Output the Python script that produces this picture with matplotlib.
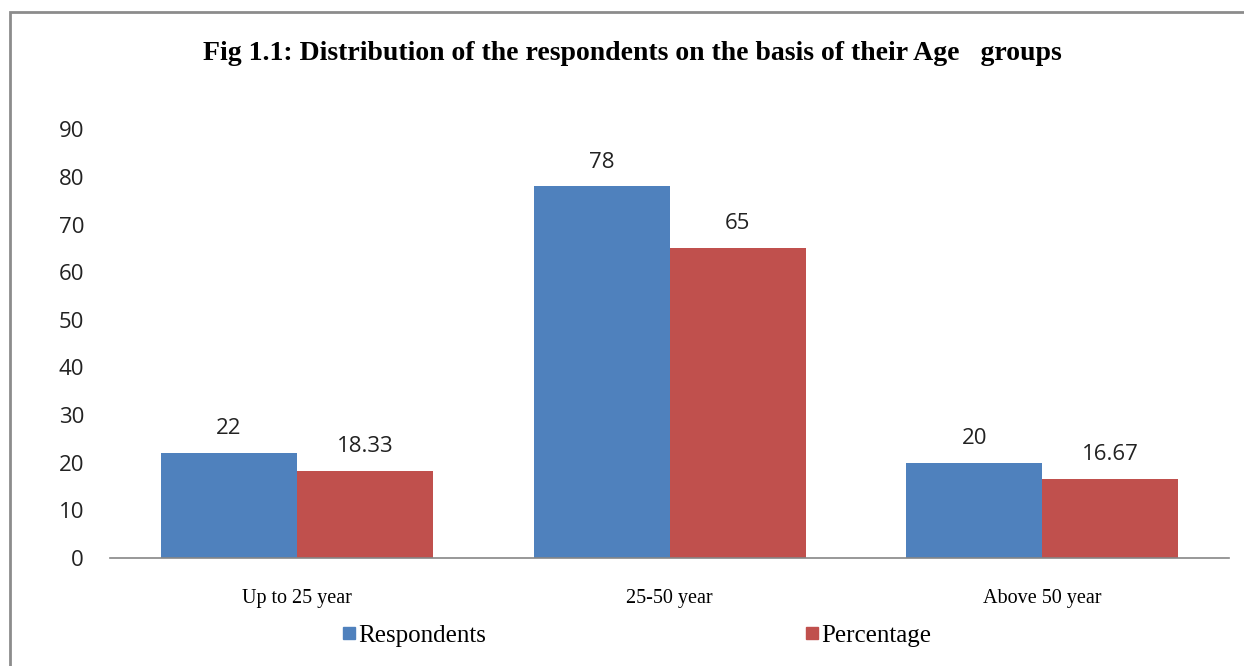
import numpy as np
import matplotlib.pyplot as plt
from matplotlib.patches import Rectangle
from matplotlib.lines import Line2D

categories = ['Up to 25 year', '25-50 year', 'Above 50 year']
respondents = [22, 78, 20]
percentage = [18.33, 65, 16.67]
resp_labels = ['22', '78', '20']
pct_labels = ['18.33', '65', '16.67']

blue = '#4F81BD'
red = '#C0504D'
serif = 'Liberation Serif'
sans = 'Open Sans'

fig = plt.figure(figsize=(12.44, 6.66), dpi=100)
ax = fig.add_axes([0.0888, 0.162, 0.899, 0.644])

x = np.arange(len(categories))
w = 0.365
b1 = ax.bar(x - w / 2, respondents, w, color=blue)
b2 = ax.bar(x + w / 2, percentage, w, color=red)

# data labels above each bar
for bars, labels in [(b1, resp_labels), (b2, pct_labels)]:
    for rect, lab in zip(bars, labels):
        ax.annotate(lab, (rect.get_x() + rect.get_width() / 2, rect.get_height()),
                    xytext=(0, 10), textcoords='offset points',
                    ha='center', va='bottom', fontsize=16, family=sans, color='#222222')

ax.set_xlim(-0.5, 2.5)
ax.set_ylim(0, 90)
ax.set_yticks(range(0, 91, 10))
ax.set_xticks(x)
ax.set_xticklabels(categories, family=serif, fontsize=14.5)
for t in ax.get_yticklabels():
    t.set_family(sans)
    t.set_fontsize(16)
    t.set_color('#222222')
ax.tick_params(axis='both', length=0)
ax.tick_params(axis='y', pad=19)
ax.tick_params(axis='x', pad=22)
for s in ['top', 'right', 'left']:
    ax.spines[s].set_visible(False)
ax.spines['bottom'].set_color('#868686')
ax.spines['bottom'].set_linewidth(1.2)

fig.text(0.508, 0.92, 'Fig 1.1: Distribution of the respondents on the basis of their Age   groups',
         ha='center', va='center', family=serif, fontweight='bold', fontsize=20)

handles = [Line2D([], [], marker='s', linestyle='', color=blue, markersize=8),
           Line2D([], [], marker='s', linestyle='', color=red, markersize=8)]
leg = fig.legend(handles, ['Respondents', 'Percentage'], loc='center',
                 bbox_to_anchor=(0.512, 0.046), ncol=2, frameon=False,
                 handlelength=0.5, handletextpad=0.1, columnspacing=12.8,
                 prop={'family': serif, 'size': 18})

fig.patches.append(Rectangle((10 / 1244, -0.1), 1.2, (666 - 12) / 666 + 0.1,
                             transform=fig.transFigure, fill=False,
                             edgecolor='#8c8c8c', linewidth=2))

fig.savefig('out.png', dpi=100)
